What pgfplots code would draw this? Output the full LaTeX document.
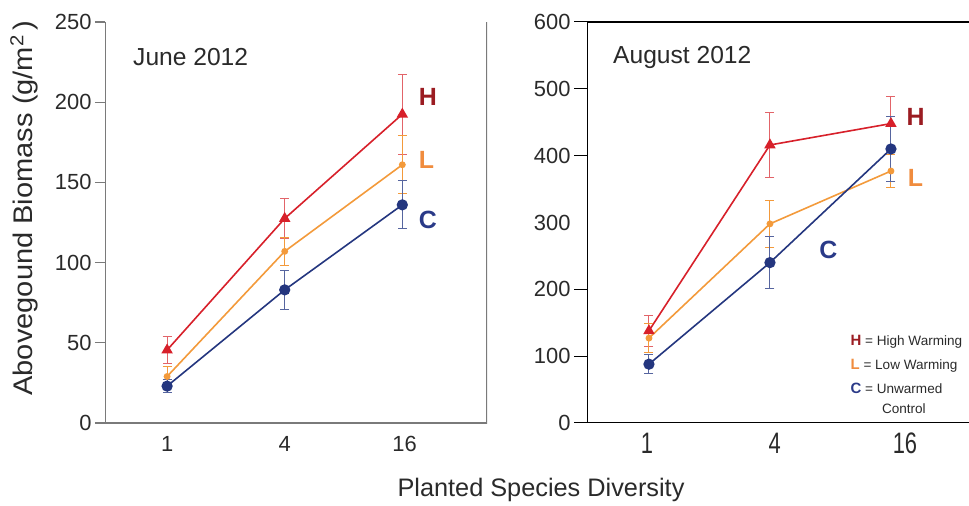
\documentclass[border=0pt]{standalone}
\usepackage{pgfplots}
\pgfplotsset{compat=1.18}
\usepackage{pgfplotstable}
\usepackage{fontspec}
\setmainfont{Liberation Sans}
\definecolor{hred}{HTML}{D7202A}
\definecolor{hredl}{HTML}{E26469}
\definecolor{hlab}{HTML}{9B1C22}
\definecolor{lor}{HTML}{F39A3B}
\definecolor{llab}{HTML}{F08C3E}
\definecolor{cblue}{HTML}{24367F}
\definecolor{cbluel}{HTML}{56659F}
\definecolor{clab}{HTML}{2A3A88}
\definecolor{axgray}{HTML}{7A7A7A}
\definecolor{txt}{HTML}{2A2A2A}

\pgfplotstableread{
x H He L Le C Ce
0 45.5 8.5 29 6 23 4
1 127.5 12.5 107 8.5 83 12
2 192.5 25 161 18 136 15
}\june
\pgfplotstableread{
x H He L Le C Ce
0 138 23 127 22 88 14
1 416 48 298 35 240 39
2 448 41 377 25 410 48
}\august

\pgfplotsset{
  panel/.style={
    scale only axis, width=382bp, height=401bp, anchor=south west,
    axis line style={draw=none},
    tick align=outside, ytick pos=left,
    xticklabels={1,4,16},
    x tick style={draw=none},
    tick label style={font=\fontsize{22}{26}\selectfont, text=txt},
    /pgf/number format/assume math mode=true,
    error bars/y dir=both, error bars/y explicit,
  },
  hser/.style={color=hred, line width=1.6bp, mark=triangle*, mark size=5bp,
    mark options={solid, fill=hred},
    error bars/error bar style={hredl, line width=1bp},
    error bars/error mark options={hredl, line width=1bp, mark size=4.5bp, rotate=90}},
  lser/.style={color=lor, line width=1.6bp, mark=*, mark size=2.6bp,
    mark options={solid, fill=lor},
    error bars/error bar style={lor, line width=1bp},
    error bars/error mark options={lor, line width=1bp, mark size=4.5bp, rotate=90}},
  cser/.style={color=cblue, line width=1.6bp, mark=*, mark size=4.8bp,
    mark options={solid, fill=cblue},
    error bars/error bar style={cbluel, line width=1bp},
    error bars/error mark options={cbluel, line width=1bp, mark size=4.5bp, rotate=90}},
}

\begin{document}
\begin{tikzpicture}
% ---------------- June 2012 ----------------
\begin{axis}[panel, at={(105bp,83bp)},
  xmin=-0.528, xmax=2.72, ymin=0, ymax=250,
  xtick={0,1,2.02},
  ytick={0,50,...,250},
  major tick length=10bp,
  y tick style={axgray, line width=1.2bp},
]
\draw[axgray, line width=1.4bp] (rel axis cs:0,1) -- (rel axis cs:0,0) -- (rel axis cs:1,0) -- (rel axis cs:1,1);
\addplot[hser] table[x=x, y=H, y error=He] {\june};
\addplot[lser] table[x=x, y=L, y error=Le] {\june};
\addplot[cser] table[x=x, y=C, y error=Ce] {\june};
\node[anchor=west, font=\fontsize{25}{28}\selectfont\bfseries, text=hlab] at (axis cs:2.11,203) {H};
\node[anchor=west, font=\fontsize{25}{28}\selectfont\bfseries, text=llab] at (axis cs:2.11,164) {L};
\node[anchor=west, font=\fontsize{25}{28}\selectfont\bfseries, text=clab] at (axis cs:2.11,126.5) {C};
\end{axis}
% ---------------- August 2012 ----------------
\begin{axis}[panel, at={(587bp,83bp)},
  xmin=-0.512, xmax=2.645, ymin=0, ymax=600,
  xtick={-0.017,1.04,2.116},
  xticklabel style={yscale=1.35, yshift=6bp},
  ytick={0,100,200,400,500,600},
  extra y ticks={300},
  extra y tick style={major tick style={draw=none}},
  major tick length=13bp,
  y tick style={black, line width=1bp},
]
\draw[black, line width=1.1bp] (rel axis cs:1,1) -- (rel axis cs:0,1) -- (rel axis cs:0,0) -- (rel axis cs:1,0);
\addplot[hser] table[x=x, y=H, y error=He] {\august};
\addplot[lser] table[x=x, y=L, y error=Le] {\august};
\addplot[cser] table[x=x, y=C, y error=Ce] {\august};
\node[anchor=west, font=\fontsize{25}{28}\selectfont\bfseries, text=hlab] at (axis cs:2.10,458.5) {H};
\node[anchor=west, font=\fontsize{25}{28}\selectfont\bfseries, text=llab] at (axis cs:2.11,366.8) {L};
\node[anchor=west, font=\fontsize{25}{28}\selectfont\bfseries, text=clab] at (axis cs:1.38,259) {C};
% legend
\node[anchor=west, inner sep=0pt, font=\fontsize{13.6}{15}\selectfont, text=txt] at (axis cs:1.665,121) {{\fontsize{15}{17}\selectfont\bfseries\color{hlab}H} = High Warming};
\node[anchor=west, inner sep=0pt, font=\fontsize{13.6}{15}\selectfont, text=txt] at (axis cs:1.665,85) {{\fontsize{15}{17}\selectfont\bfseries\color{llab}L} = Low Warming};
\node[anchor=west, inner sep=0pt, font=\fontsize{13.6}{15}\selectfont, text=txt] at (axis cs:1.665,52) {{\fontsize{15}{17}\selectfont\bfseries\color{clab}C} = Unwarmed};
\node[anchor=west, inner sep=0pt, font=\fontsize{13.6}{15}\selectfont, text=txt] at (axis cs:1.925,22) {Control};
\end{axis}
% titles and shared labels
\node[anchor=west, inner sep=0pt, font=\fontsize{24.7}{28}\selectfont, text=txt] at (133bp,449bp) {June 2012};
\node[anchor=west, inner sep=0pt, font=\fontsize{24.7}{28}\selectfont, text=txt] at (613bp,449bp) {August 2012};
\node[rotate=90, xscale=1.08, inner sep=0pt, font=\fontsize{27}{30}\selectfont, text=txt] at (24bp,298bp) {Abovegound Biomass (g/m\textsuperscript{2}\,)};
\node[inner sep=0pt, font=\fontsize{25.4}{29}\selectfont, text=txt] at (541bp,16bp) {Planted Species Diversity};
\pgfresetboundingbox
\path (0,0) rectangle (969bp,506bp);
\end{tikzpicture}
\end{document}
